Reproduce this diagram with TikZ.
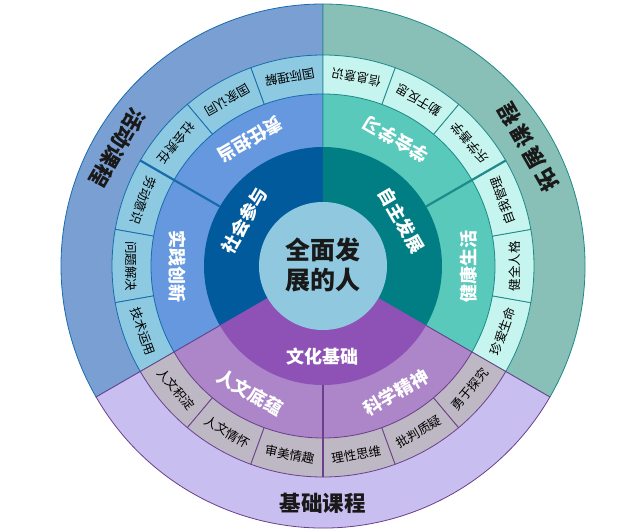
\documentclass[tikz,border=0pt]{standalone}
\usepackage{fontspec}
\newfontfamily\cjk{Noto Sans CJK SC}
\definecolor{oB}{HTML}{7A9FD3}
\definecolor{oT}{HTML}{88BFB6}
\definecolor{oP}{HTML}{C9BEF0}
\definecolor{iB}{HTML}{8DC9E0}
\definecolor{iT}{HTML}{C6F4EE}
\definecolor{iP}{HTML}{BDB8C3}
\definecolor{mB}{HTML}{6698E0}
\definecolor{mT}{HTML}{58C9BA}
\definecolor{mP}{HTML}{AC86C8}
\definecolor{dB}{HTML}{005A9C}
\definecolor{dT}{HTML}{007E84}
\definecolor{dP}{HTML}{8E52B6}
\definecolor{ctr}{HTML}{90C9DF}
\definecolor{lB}{HTML}{176CAE}
\definecolor{lT}{HTML}{1E8A8A}
\definecolor{lP}{HTML}{6B3F8C}
\newcommand\piesec[4]{\path[#1] (0,0) -- (#2:#4) arc[start angle=#2, end angle=#3, radius=#4] -- cycle;}
\begin{document}
\begin{tikzpicture}[x=1pt,y=1pt,
  itemlab/.style={font=\cjk\fontsize{12.5}{14}\selectfont, text=black, inner sep=0pt},
  midlab/.style={font=\cjk\bfseries\fontsize{18}{20}\selectfont, text=white, inner sep=0pt},
  darklab/.style={font=\cjk\bfseries\fontsize{18}{20}\selectfont, text=white, inner sep=0pt},
  outlab/.style={font=\cjk\bfseries\fontsize{21.5}{24}\selectfont, text=black!90, inner sep=0pt},
  ctrlab/.style={font=\cjk\bfseries\fontsize{25}{30}\selectfont, text=black!90, align=center, inner sep=0pt},
  sepline/.style={line width=0.8pt},
  boldsep/.style={line width=2.2pt}]
\useasboundingbox (-323,-265) rectangle (314,266);
% outer ring
\piesec{fill=oB,draw=lB,sepline}{90}{210}{262}
\piesec{fill=oT,draw=lT,sepline}{-30}{90}{262}
\piesec{fill=oP,draw=lP,sepline}{210}{330}{262}
% item ring
\foreach \a [evaluate=\a as \b using \a+20] in {90,110,130,150,170,190}
  {\piesec{fill=iB,draw=lB,sepline}{\a}{\b}{211}}
\foreach \a [evaluate=\a as \b using \a+20] in {-30,-10,10,30,50,70}
  {\piesec{fill=iT,draw=lT,sepline}{\a}{\b}{211}}
\foreach \a [evaluate=\a as \b using \a+20] in {210,230,250,270,290,310}
  {\piesec{fill=iP,draw=lP,sepline}{\a}{\b}{211}}
% middle ring
\piesec{fill=mB,draw=lB,sepline}{90}{150}{172}
\piesec{fill=mB,draw=lB,sepline}{150}{210}{172}
\piesec{fill=mT,draw=lT,sepline}{-30}{30}{172}
\piesec{fill=mT,draw=lT,sepline}{30}{90}{172}
\piesec{fill=mP,draw=lP,sepline}{210}{270}{172}
\piesec{fill=mP,draw=lP,sepline}{270}{330}{172}
% dark ring
\piesec{fill=dB}{90}{210}{119}
\piesec{fill=dT}{-30}{90}{119}
\piesec{fill=dP}{210}{330}{119}
% bold separators
\draw[lB,boldsep] (150:119) -- (150:211);
\draw[lT,boldsep] (30:119) -- (30:211);
\draw[lP,line width=1.6pt] (270:119) -- (270:211);
% centre
\fill[ctr] (0,0) circle[radius=64];
\node[ctrlab] (centre) at (0,1) {全面发\\展的人};
% dark labels
\node[darklab, rotate=60] (dk1) at (150:91) {社会参与};
\node[darklab, rotate=-60] (dk2) at (30:91) {自主发展};
\node[darklab] (dk3) at (270:91) {文化基础};
% middle labels
\foreach \a/\t [count=\i] in {120/责任担当,180/实践创新,240/人文底蕴,300/科学精神,0/健康生活,60/学会学习}
  {\node[midlab, rotate=\a+90] (md\i) at (\a:146) {\t};}
% item labels
\foreach \a/\t [count=\i] in {100/国际理解,120/国家认同,140/社会责任,160/劳动意识,180/问题解决,200/技术运用,220/人文积淀,240/人文情怀,260/审美情趣,280/理性思维,300/批判质疑,320/勇于探究,340/珍爱生命,0/健全人格,20/自我管理,40/乐学善学,60/勤于反思,80/信息意识}
  {\node[itemlab, rotate=\a+90] (it\i) at (\a:191.5) {\t};}
% outer labels
\node[outlab, rotate=240] (ou1) at (150:237) {活动课程};
\node[outlab, rotate=120] (ou2) at (30:237) {拓\hspace{4pt}展\hspace{4pt}课\hspace{4pt}程};
\node[outlab] (ou3) at (270:237) {基础课程};
\end{tikzpicture}
\end{document}
